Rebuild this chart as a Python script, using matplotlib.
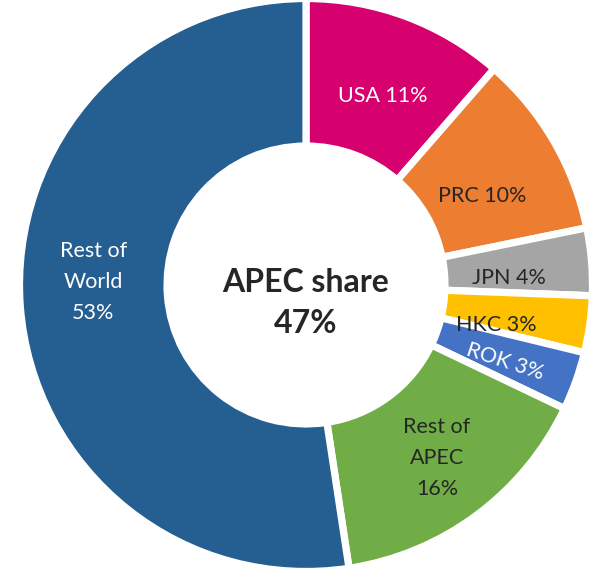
import numpy as np
import matplotlib
matplotlib.use("Agg")
import matplotlib.pyplot as plt

# ---- data ----
categories = ["USA", "PRC", "JPN", "HKC", "ROK", "Rest of\nAPEC", "Rest of\nWorld"]
shares = [11.4, 10.4, 3.8, 3.2, 3.3, 15.5, 52.4]
label_pct = ["11%", "10%", "4%", "3%", "3%", "16%", "53%"]  # printed labels
colors = ["#D6006E", "#ED7D31", "#A5A5A5", "#FFC000", "#4472C4", "#70AD47", "#255E91"]
text_colors = ["white", "#262626", "#262626", "#262626", "white", "#262626", "white"]
center_title = "APEC share"
center_value = "47%"

# label placement style (clockwise angular nudge in degrees, radial distance)
label_nudge = [1.5, 3.5, 2.7, 3.9, 1.5, -0.6, 5.1]
label_r = [0.71, 0.69, 0.71, 0.68, 0.745, 0.757, 0.743]

plt.rcParams['font.family'] = ['Lato', 'DejaVu Sans']

W, H = 592, 571
fig = plt.figure(figsize=(W / 100, H / 100), dpi=100)
ax = fig.add_axes([0, 0, 1, 1])

scale = 286.5          # px per data unit
cx, cy = 306, 285      # centre in px (from top-left)

wedges, _ = ax.pie(shares, colors=colors, startangle=90, counterclock=False,
                   radius=1.0,
                   wedgeprops=dict(width=0.515, edgecolor="white", linewidth=5.2))

ax.set_xlim(-cx / scale, (W - cx) / scale)
ax.set_ylim(-(H - cy) / scale, cy / scale)
ax.set_aspect('equal', adjustable='box')
ax.axis('off')

for i, w in enumerate(wedges):
    ang = np.deg2rad((w.theta1 + w.theta2) / 2 - label_nudge[i])
    x, y = label_r[i] * np.cos(ang), label_r[i] * np.sin(ang)
    name = categories[i]
    if "\n" in name:
        txt = name + "\n" + label_pct[i]
    else:
        txt = name + " " + label_pct[i]
    rot = -18 if name == "ROK" else 0
    ax.text(x, y, txt, ha="center", va="center", color=text_colors[i],
            fontsize=15.5, rotation=rot, linespacing=1.7,
            rotation_mode="anchor")

ax.text(0, 3 / scale, center_title, ha="center", va="center",
        fontsize=23, fontweight="bold", color="#262626")
ax.text(0, -38 / scale, center_value, ha="center", va="center",
        fontsize=23, fontweight="bold", color="#262626")

fig.savefig("out.png", dpi=100, facecolor="white")
